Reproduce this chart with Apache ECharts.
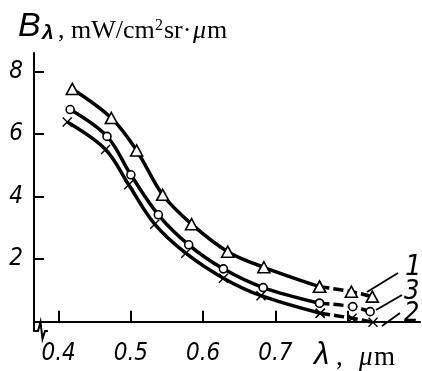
<!DOCTYPE html>
<html>
<head>
<meta charset="utf-8">
<script src="https://cdn.jsdelivr.net/npm/echarts@6/dist/echarts.min.js"></script>
<style>
  html, body { margin: 0; padding: 0; background: #fff; }
  #chart { width: 422px; height: 371px; }
</style>
</head>
<body>
<div id="chart"></div>
<script>
// wavelength (um) and spectral radiance, one pair per curve
const lam1 = [0.419, 0.473, 0.508, 0.544, 0.584, 0.634, 0.684, 0.761, 0.805, 0.834]
const b1 = [7.45, 6.52, 5.48, 4.06, 3.12, 2.24, 1.74, 1.12, 0.96, 0.80]
const lam3 = [0.416, 0.467, 0.500, 0.538, 0.580, 0.628, 0.683, 0.761, 0.807, 0.831]
const b3 = [6.79, 5.93, 4.70, 3.42, 2.46, 1.69, 1.09, 0.59, 0.48, 0.32]
const lam2 = [0.412, 0.465, 0.497, 0.533, 0.576, 0.628, 0.680, 0.762, 0.806, 0.835]
const b2 = [6.39, 5.51, 4.38, 3.12, 2.19, 1.39, 0.83, 0.27, 0.11, -0.02]

// the last segments of every curve are drawn dashed
const dashFrom = 7

const xTicks = [0.4, 0.5, 0.6, 0.7, 0.8]
const xLabels = [0.4, 0.5, 0.6, 0.7]
const yTicks = [2, 4, 6, 8]

const narrow = '"Liberation Sans Narrow", "DejaVu Sans Condensed", sans-serif'
const sans = '"Liberation Sans", Arial, sans-serif'
const serif = '"Liberation Serif", "Times New Roman", serif'
const crossPath = 'path://M0,1L1,0L5,4L9,0L10,1L6,5L10,9L9,10L5,6L1,10L0,9L4,5Z'

const pairs = (xs, ys) => xs.map((x, i) => [x, ys[i]])

// one curve = solid part + dashed tail
function curve(xs, ys, symbol, size, filled) {
  const pts = pairs(xs, ys)
  const base = {
    type: 'line',
    smooth: 0.35,
    symbol: symbol,
    symbolSize: size,
    showSymbol: true,
    itemStyle: filled
      ? { color: '#000', borderWidth: 0 }
      : { color: '#fff', borderColor: '#000', borderWidth: 1.6 },
    animation: false,
    silent: true,
  }
  return [
    { ...base, data: pts.slice(0, dashFrom + 1), lineStyle: { color: '#000', width: 3.5 } },
    { ...base, data: pts.slice(dashFrom), lineStyle: { color: '#000', width: 3.5, type: [10, 4] } },
  ]
}

const chart = echarts.init(document.getElementById('chart'), null, { renderer: 'canvas' })

chart.setOption({
  backgroundColor: '#fff',
  animation: false,
  grid: { left: 34, right: 2, top: 53, bottom: 40, containLabel: false },
  xAxis: {
    type: 'value',
    min: 0.366,
    max: 0.9,
    axisLine: { show: true, lineStyle: { color: '#000', width: 2 } },
    axisTick: {
      show: true,
      inside: true,
      length: 11,
      customValues: xTicks,
      lineStyle: { color: '#000', width: 2 },
    },
    axisLabel: {
      customValues: xLabels,
      formatter: (v) => v.toFixed(1),
      color: '#000',
      fontFamily: narrow,
      fontStyle: 'italic',
      fontSize: 24,
      margin: 11,
    },
    splitLine: { show: false },
  },
  yAxis: {
    type: 'value',
    min: -0.3,
    max: 8.6,
    axisLine: { show: true, lineStyle: { color: '#000', width: 2 } },
    axisTick: {
      show: true,
      inside: true,
      length: 10,
      customValues: yTicks,
      lineStyle: { color: '#000', width: 2 },
    },
    axisLabel: {
      customValues: yTicks,
      color: '#000',
      fontFamily: narrow,
      fontStyle: 'italic',
      fontSize: 24,
      margin: 11,
    },
    splitLine: { show: false },
  },
  series: [
    ...curve(lam1, b1, 'triangle', [12, 11], false),
    ...curve(lam3, b3, 'circle', 8, false),
    ...curve(lam2, b2, crossPath, 10, true),
  ],
  graphic: [
    // axis title
    { type: 'text', style: { x: 18, y: 44, text: 'B', font: 'italic 34px ' + sans, fill: '#000', verticalAlign: 'bottom' } },
    { type: 'text', style: { x: 42, y: 44, text: 'λ', font: 'italic bold 21px ' + sans, fill: '#000', verticalAlign: 'bottom' } },
    { type: 'text', style: { x: 58, y: 44, text: ', mW/cm', font: '26px ' + serif, fill: '#000', verticalAlign: 'bottom' } },
    { type: 'text', style: { x: 155, y: 34, text: '2', font: '16px ' + serif, fill: '#000', verticalAlign: 'bottom' } },
    { type: 'text', style: { x: 164, y: 44, text: 'sr·', font: '26px ' + serif, fill: '#000', verticalAlign: 'bottom' } },
    { type: 'text', style: { x: 193, y: 44, text: 'μ', font: 'italic 26px ' + serif, fill: '#000', verticalAlign: 'bottom' } },
    { type: 'text', style: { x: 207, y: 44, text: 'm', font: '26px ' + serif, fill: '#000', verticalAlign: 'bottom' } },
    // x axis title
    { type: 'text', style: { x: 314, y: 371, text: 'λ', font: 'italic 31px ' + sans, fill: '#000', verticalAlign: 'bottom' } },
    { type: 'text', style: { x: 336, y: 371, text: ',', font: '27px ' + serif, fill: '#000', verticalAlign: 'bottom' } },
    { type: 'text', style: { x: 359, y: 371, text: 'μ', font: 'italic 27px ' + serif, fill: '#000', verticalAlign: 'bottom' } },
    { type: 'text', style: { x: 374, y: 371, text: 'm', font: '27px ' + serif, fill: '#000', verticalAlign: 'bottom' } },
    // curve numbers and leader lines
    { type: 'text', style: { x: 405, y: 282, text: '1', font: 'italic 29px ' + narrow, fill: '#000', verticalAlign: 'bottom' } },
    { type: 'text', style: { x: 404, y: 305, text: '3', font: 'italic 27px ' + narrow, fill: '#000', verticalAlign: 'bottom' } },
    { type: 'text', style: { x: 404, y: 327, text: '2', font: 'italic 27px ' + narrow, fill: '#000', verticalAlign: 'bottom' } },
    { type: 'line', shape: { x1: 398, y1: 273, x2: 367, y2: 292 }, style: { stroke: '#000', lineWidth: 1.8 } },
    { type: 'line', shape: { x1: 402, y1: 295, x2: 376, y2: 310 }, style: { stroke: '#000', lineWidth: 1.8 } },
    { type: 'line', shape: { x1: 400, y1: 313, x2: 382, y2: 326 }, style: { stroke: '#000', lineWidth: 1.8 } },
    // axis break
    { type: 'rect', shape: { x: 36, y: 329, width: 9, height: 4 }, style: { fill: '#fff' }, z: 100 },
    {
      type: 'polyline',
      shape: { points: [[34, 331], [38, 331], [40.5, 322], [42.5, 339], [45, 331], [48, 331]] },
      style: { stroke: '#000', lineWidth: 2, fill: null },
      z: 101,
    },
  ],
})
</script>
</body>
</html>
